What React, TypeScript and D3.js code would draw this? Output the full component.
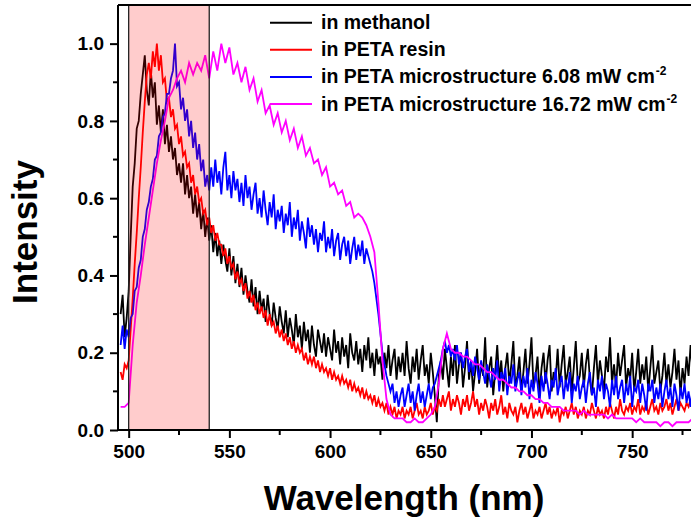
import React, { useRef, useEffect } from 'react';
import * as d3 from 'd3';

// sampling grids (nm): the noisy spectra every 1 nm, the smoother one every 2 nm
const grid1nm = d3.range(496, 781, 1);
const grid2nm = d3.range(496, 781, 2);

const methanol = [
  0.30, 0.35, 0.24, 0.29, 0.36, 0.50, 0.63, 0.69, 0.78, 0.80,
  0.87, 0.92, 0.97, 0.88, 0.84, 0.93, 0.86, 0.90, 0.79, 0.84,
  0.77, 0.83, 0.74, 0.79, 0.72, 0.76, 0.70, 0.73, 0.66, 0.69,
  0.64, 0.69, 0.61, 0.66, 0.60, 0.63, 0.56, 0.61, 0.55, 0.59,
  0.52, 0.57, 0.50, 0.55, 0.49, 0.53, 0.46, 0.51, 0.45, 0.49,
  0.43, 0.48, 0.44, 0.41, 0.47, 0.40, 0.45, 0.38, 0.43, 0.37,
  0.42, 0.35, 0.40, 0.36, 0.33, 0.39, 0.32, 0.37, 0.30, 0.36,
  0.31, 0.34, 0.28, 0.35, 0.30, 0.27, 0.33, 0.29, 0.26, 0.32,
  0.28, 0.25, 0.31, 0.24, 0.29, 0.26, 0.22, 0.30, 0.24, 0.27,
  0.21, 0.28, 0.23, 0.26, 0.20, 0.27, 0.22, 0.19, 0.26, 0.23,
  0.20, 0.25, 0.19, 0.24, 0.21, 0.18, 0.26, 0.20, 0.23, 0.17,
  0.24, 0.19, 0.22, 0.16, 0.25, 0.20, 0.18, 0.23, 0.17, 0.21,
  0.15, 0.22, 0.18, 0.24, 0.16, 0.20, 0.14, 0.21, 0.17, 0.19,
  0.13, 0.20, 0.16, 0.22, 0.14, 0.18, 0.21, 0.13, 0.19, 0.15,
  0.20, 0.14, 0.23, 0.16, 0.12, 0.19, 0.15, 0.21, 0.13, 0.18,
  0.22, 0.14, 0.17, 0.12, 0.20, 0.15, 0.09, 0.02, 0.14, 0.18,
  0.13, 0.21, 0.16, 0.11, 0.19, 0.14, 0.22, 0.12, 0.17, 0.20,
  0.11, 0.16, 0.23, 0.13, 0.18, 0.10, 0.15, 0.21, 0.12, 0.17,
  0.14, 0.24, 0.11, 0.16, 0.19, 0.09, 0.15, 0.22, 0.13, 0.18,
  0.10, 0.16, 0.20, 0.12, 0.17, 0.23, 0.11, 0.14, 0.19, 0.10,
  0.15, 0.21, 0.12, 0.17, 0.24, 0.11, 0.14, 0.19, 0.09, 0.16,
  0.20, 0.12, 0.18, 0.22, 0.10, 0.15, 0.13, 0.21, 0.11, 0.17,
  0.22, 0.12, 0.15, 0.19, 0.10, 0.16, 0.23, 0.12, 0.14, 0.20,
  0.11, 0.17, 0.21, 0.13, 0.09, 0.16, 0.22, 0.12, 0.18, 0.14,
  0.10, 0.19, 0.15, 0.24, 0.12, 0.17, 0.11, 0.20, 0.14, 0.18,
  0.22, 0.11, 0.16, 0.13, 0.20, 0.10, 0.15, 0.21, 0.12, 0.17,
  0.13, 0.19, 0.10, 0.16, 0.22, 0.12, 0.15, 0.18, 0.10, 0.14,
  0.20, 0.12, 0.17, 0.11, 0.15, 0.21, 0.13, 0.18, 0.09, 0.16,
  0.12, 0.19, 0.14, 0.22, 0.15,
];

const petaResin = [
  0.15, 0.13, 0.17, 0.16, 0.18, 0.26, 0.34, 0.43, 0.51, 0.60,
  0.68, 0.77, 0.85, 0.92, 0.95, 0.91, 0.98, 0.94, 1.00, 0.93,
  0.97, 0.90, 0.91, 0.85, 0.86, 0.81, 0.83, 0.78, 0.79, 0.74,
  0.76, 0.71, 0.72, 0.68, 0.69, 0.64, 0.66, 0.61, 0.63, 0.59,
  0.60, 0.56, 0.57, 0.53, 0.55, 0.51, 0.53, 0.49, 0.51, 0.48,
  0.48, 0.45, 0.47, 0.43, 0.45, 0.42, 0.43, 0.39, 0.41, 0.38,
  0.39, 0.36, 0.38, 0.34, 0.36, 0.33, 0.35, 0.31, 0.33, 0.30,
  0.32, 0.29, 0.31, 0.27, 0.30, 0.27, 0.28, 0.25, 0.27, 0.24,
  0.26, 0.23, 0.25, 0.22, 0.24, 0.21, 0.23, 0.20, 0.22, 0.20,
  0.21, 0.18, 0.20, 0.17, 0.19, 0.17, 0.19, 0.16, 0.18, 0.15,
  0.17, 0.15, 0.16, 0.14, 0.16, 0.13, 0.15, 0.13, 0.14, 0.12,
  0.14, 0.12, 0.13, 0.11, 0.13, 0.10, 0.12, 0.10, 0.11, 0.09,
  0.11, 0.08, 0.10, 0.08, 0.09, 0.07, 0.09, 0.06, 0.08, 0.06,
  0.07, 0.05, 0.07, 0.04, 0.06, 0.04, 0.06, 0.03, 0.05, 0.04,
  0.06, 0.03, 0.05, 0.04, 0.06, 0.03, 0.05, 0.07, 0.04, 0.05,
  0.03, 0.06, 0.04, 0.05, 0.07, 0.04, 0.06, 0.05, 0.08, 0.06,
  0.09, 0.06, 0.08, 0.10, 0.05, 0.08, 0.06, 0.09, 0.07, 0.04,
  0.08, 0.06, 0.09, 0.05, 0.07, 0.10, 0.06, 0.08, 0.04, 0.07,
  0.05, 0.08, 0.06, 0.03, 0.07, 0.05, 0.08, 0.04, 0.06, 0.09,
  0.04, 0.06, 0.03, 0.07, 0.05, 0.04, 0.06, 0.02, 0.05, 0.07,
  0.04, 0.06, 0.03, 0.05, 0.07, 0.03, 0.05, 0.04, 0.06, 0.03,
  0.05, 0.07, 0.04, 0.06, 0.03, 0.05, 0.04, 0.06, 0.02, 0.05,
  0.04, 0.06, 0.03, 0.05, 0.07, 0.04, 0.06, 0.03, 0.05, 0.04,
  0.06, 0.03, 0.05, 0.04, 0.07, 0.05, 0.03, 0.06, 0.04, 0.05,
  0.03, 0.06, 0.04, 0.07, 0.05, 0.03, 0.06, 0.04, 0.08, 0.05,
  0.04, 0.06, 0.05, 0.07, 0.04, 0.06, 0.05, 0.08, 0.04, 0.06,
  0.05, 0.07, 0.04, 0.06, 0.08, 0.05, 0.06, 0.04, 0.07, 0.05,
  0.06, 0.08, 0.05, 0.07, 0.04, 0.06, 0.08, 0.05, 0.07, 0.06,
  0.05, 0.07, 0.06, 0.08, 0.05,
];

const micro608 = [
  0.22, 0.27, 0.21, 0.26, 0.24, 0.29, 0.30, 0.36, 0.37, 0.42,
  0.44, 0.50, 0.52, 0.57, 0.59, 0.63, 0.65, 0.70, 0.71, 0.76,
  0.77, 0.81, 0.82, 0.87, 0.87, 0.91, 0.93, 1.00, 0.89, 0.90,
  0.83, 0.86, 0.80, 0.83, 0.76, 0.80, 0.73, 0.77, 0.70, 0.74,
  0.67, 0.70, 0.63, 0.66, 0.62, 0.68, 0.63, 0.70, 0.64, 0.67,
  0.61, 0.68, 0.72, 0.62, 0.66, 0.60, 0.67, 0.62, 0.65, 0.59,
  0.64, 0.58, 0.66, 0.60, 0.63, 0.57, 0.61, 0.64, 0.56, 0.60,
  0.55, 0.62, 0.57, 0.53, 0.59, 0.55, 0.61, 0.52, 0.57, 0.54,
  0.58, 0.51, 0.56, 0.53, 0.59, 0.50, 0.55, 0.52, 0.57, 0.49,
  0.54, 0.51, 0.47, 0.55, 0.50, 0.53, 0.48, 0.52, 0.46, 0.51,
  0.49, 0.54, 0.46, 0.50, 0.47, 0.52, 0.45, 0.49, 0.51, 0.44,
  0.48, 0.50, 0.45, 0.49, 0.43, 0.47, 0.50, 0.44, 0.48, 0.45,
  0.49, 0.43, 0.47, 0.45, 0.43, 0.41, 0.38, 0.34, 0.30, 0.25,
  0.20, 0.17, 0.14, 0.12, 0.10, 0.12, 0.07, 0.10, 0.06, 0.09,
  0.11, 0.06, 0.09, 0.12, 0.07, 0.10, 0.05, 0.09, 0.12, 0.07,
  0.10, 0.06, 0.09, 0.12, 0.08, 0.11, 0.12, 0.14, 0.16, 0.18,
  0.21, 0.23, 0.20, 0.22, 0.19, 0.21, 0.18, 0.22, 0.17, 0.20,
  0.16, 0.19, 0.21, 0.15, 0.18, 0.14, 0.19, 0.16, 0.13, 0.18,
  0.15, 0.12, 0.17, 0.14, 0.11, 0.16, 0.13, 0.18, 0.10, 0.15,
  0.13, 0.16, 0.09, 0.14, 0.12, 0.17, 0.10, 0.13, 0.15, 0.09,
  0.14, 0.11, 0.16, 0.08, 0.13, 0.10, 0.15, 0.12, 0.07, 0.14,
  0.10, 0.15, 0.12, 0.08, 0.13, 0.11, 0.16, 0.09, 0.12, 0.14,
  0.08, 0.13, 0.10, 0.15, 0.07, 0.12, 0.10, 0.14, 0.08, 0.11,
  0.13, 0.07, 0.12, 0.15, 0.09, 0.11, 0.06, 0.13, 0.10, 0.14,
  0.08, 0.12, 0.10, 0.06, 0.13, 0.09, 0.14, 0.08, 0.11, 0.13,
  0.07, 0.12, 0.09, 0.14, 0.06, 0.11, 0.10, 0.13, 0.07, 0.12,
  0.09, 0.05, 0.12, 0.10, 0.13, 0.07, 0.11, 0.08, 0.12, 0.06,
  0.10, 0.13, 0.08, 0.11, 0.06, 0.12, 0.09, 0.05, 0.11, 0.08,
  0.12, 0.07, 0.10, 0.06, 0.11,
];

const micro1672 = [
  0.06, 0.06, 0.07, 0.22, 0.33, 0.40, 0.48, 0.55, 0.62, 0.69,
  0.75, 0.80, 0.86, 0.88, 0.91, 0.93, 0.90, 0.95, 0.92, 0.95,
  0.93, 0.97, 0.91, 0.98, 0.93, 1.00, 0.95, 0.99, 0.92, 0.95,
  0.90, 0.94, 0.88, 0.91, 0.85, 0.88, 0.82, 0.84, 0.79, 0.82,
  0.77, 0.80, 0.75, 0.78, 0.73, 0.76, 0.71, 0.73, 0.69, 0.70,
  0.66, 0.68, 0.63, 0.64, 0.61, 0.62, 0.58, 0.59, 0.55, 0.56,
  0.55, 0.53, 0.50, 0.46, 0.33, 0.18, 0.08, 0.04, 0.03, 0.03,
  0.03, 0.02, 0.02, 0.03, 0.02, 0.02, 0.03, 0.04, 0.06, 0.12,
  0.21, 0.25, 0.21, 0.20, 0.20, 0.19, 0.19, 0.18, 0.17, 0.17,
  0.16, 0.15, 0.15, 0.14, 0.13, 0.13, 0.12, 0.11, 0.11, 0.10,
  0.10, 0.09, 0.09, 0.08, 0.08, 0.07, 0.07, 0.06, 0.06, 0.06,
  0.05, 0.05, 0.05, 0.05, 0.04, 0.05, 0.04, 0.04, 0.04, 0.04,
  0.04, 0.03, 0.04, 0.03, 0.03, 0.03, 0.03, 0.03, 0.02, 0.03,
  0.02, 0.02, 0.02, 0.02, 0.01, 0.02, 0.02, 0.01, 0.02, 0.02,
  0.02, 0.02, 0.03,
];

const seriesNames = [
  'in methanol',
  'in PETA resin',
  'in PETA microstructure 6.08 mW cm',
  'in PETA microstructure 16.72 mW cm',
];
const seriesSup = ['', '', '-2', '-2'];
const seriesColors = ['#000000', '#ff0000', '#0000ff', '#ff00ff'];
const seriesValues = [methanol, petaResin, micro608, micro1672];
const seriesGrids = [grid1nm, grid1nm, grid1nm, grid2nm];

const xTicks = [500, 550, 600, 650, 700, 750];
const xMinor = [525, 575, 625, 675, 725, 775];
const yTicks = [0, 0.2, 0.4, 0.6, 0.8, 1.0];
const yMinor = [0.1, 0.3, 0.5, 0.7, 0.9];
const excitationBand = [500, 540];

export default function App() {
  const ref = useRef<SVGSVGElement>(null);

  useEffect(() => {
    const width = 691;
    const height = 520;
    const plot = { left: 118, right: 691, top: 5, bottom: 430 };
    const font = 'Arial, "Liberation Sans", sans-serif';

    const svg = d3.select(ref.current);
    svg.selectAll('*').remove();
    svg.attr('width', width).attr('height', height).attr('viewBox', `0 0 ${width} ${height}`);

    const x = d3.scaleLinear().domain([494.7, 781]).range([118, 694.6]);
    const y = d3.scaleLinear().domain([0, 1.1]).range([plot.bottom, plot.top]);

    svg
      .append('defs')
      .append('clipPath')
      .attr('id', 'plot-clip')
      .append('rect')
      .attr('x', plot.left)
      .attr('y', plot.top)
      .attr('width', plot.right - plot.left)
      .attr('height', plot.bottom - plot.top);

    const body = svg.append('g').attr('clip-path', 'url(#plot-clip)');

    // spectra
    seriesValues.forEach((vals, i) => {
      const grid = seriesGrids[i];
      const pts = vals.map((v, j) => [grid[j], v] as [number, number]);
      const line = d3
        .line<[number, number]>()
        .x(d => x(d[0]))
        .y(d => y(d[1]));
      body
        .append('path')
        .datum(pts)
        .attr('fill', 'none')
        .attr('stroke', seriesColors[i])
        .attr('stroke-width', 1.8)
        .attr('d', line);
    });

    // shaded excitation band, laid over the spectra
    body
      .append('rect')
      .attr('x', x(excitationBand[0]))
      .attr('y', plot.top)
      .attr('width', x(excitationBand[1]) - x(excitationBand[0]))
      .attr('height', plot.bottom - plot.top)
      .attr('fill', 'rgba(255,0,0,0.2)')
      .attr('stroke', '#222')
      .attr('stroke-width', 1.3);

    // top frame line
    svg
      .append('line')
      .attr('x1', plot.left)
      .attr('x2', plot.right)
      .attr('y1', plot.top)
      .attr('y2', plot.top)
      .attr('stroke', '#000')
      .attr('stroke-width', 2);

    // x axis
    const gx = svg.append('g').attr('transform', `translate(0,${plot.bottom})`);
    gx.call(
      d3.axisBottom(x).tickValues(xTicks).tickSize(8).tickSizeOuter(0).tickPadding(7).tickFormat(d3.format('d'))
    );
    xMinor.forEach(v => {
      gx.append('line')
        .attr('x1', x(v))
        .attr('x2', x(v))
        .attr('y1', 0)
        .attr('y2', 5)
        .attr('stroke', '#000')
        .attr('stroke-width', 2);
    });

    // y axis
    const gy = svg.append('g').attr('transform', `translate(${plot.left},0)`);
    gy.call(
      d3.axisLeft(y).tickValues(yTicks).tickSize(8).tickSizeOuter(0).tickPadding(6).tickFormat(d3.format('.1f'))
    );
    yMinor.forEach(v => {
      gy.append('line')
        .attr('x1', 0)
        .attr('x2', -5)
        .attr('y1', y(v))
        .attr('y2', y(v))
        .attr('stroke', '#000')
        .attr('stroke-width', 2);
    });

    [gx, gy].forEach(g => {
      g.select('.domain').attr('stroke', '#000').attr('stroke-width', 2);
      g.selectAll('.tick line').attr('stroke', '#000').attr('stroke-width', 2);
      g.selectAll('.tick text')
        .attr('fill', '#000')
        .style('font-family', font)
        .style('font-weight', 'bold')
        .style('font-size', '19px');
    });
    gy.select('.domain').attr('d', `M0,${plot.top}V${plot.bottom}`);
    gx.select('.domain').attr('d', `M${plot.left},0H${plot.right}`);

    // axis titles
    svg
      .append('text')
      .attr('x', 404)
      .attr('y', 510)
      .attr('text-anchor', 'middle')
      .style('font-family', font)
      .style('font-weight', 'bold')
      .style('font-size', '35px')
      .text('Wavelength (nm)');

    svg
      .append('text')
      .attr('transform', 'translate(37,232) rotate(-90)')
      .attr('text-anchor', 'middle')
      .style('font-family', font)
      .style('font-weight', 'bold')
      .style('font-size', '35px')
      .text('Intensity');

    // legend
    const legend = svg.append('g');
    seriesNames.forEach((name, i) => {
      const ly = 22.7 + i * 27.1;
      legend
        .append('line')
        .attr('x1', 270)
        .attr('x2', 312)
        .attr('y1', ly)
        .attr('y2', ly)
        .attr('stroke', seriesColors[i])
        .attr('stroke-width', 2);
      const t = legend
        .append('text')
        .attr('x', 321)
        .attr('y', ly + 6.5)
        .style('font-family', font)
        .style('font-weight', 'bold')
        .style('font-size', '19.5px')
        .text(name);
      if (seriesSup[i]) {
        t.append('tspan')
          .attr('dy', -8)
          .attr('dx', 1)
          .style('font-size', '12px')
          .text(seriesSup[i]);
      }
    });
  }, []);

  return <svg ref={ref} style={{ position: 'absolute', left: 0, top: 0 }} />;
}
